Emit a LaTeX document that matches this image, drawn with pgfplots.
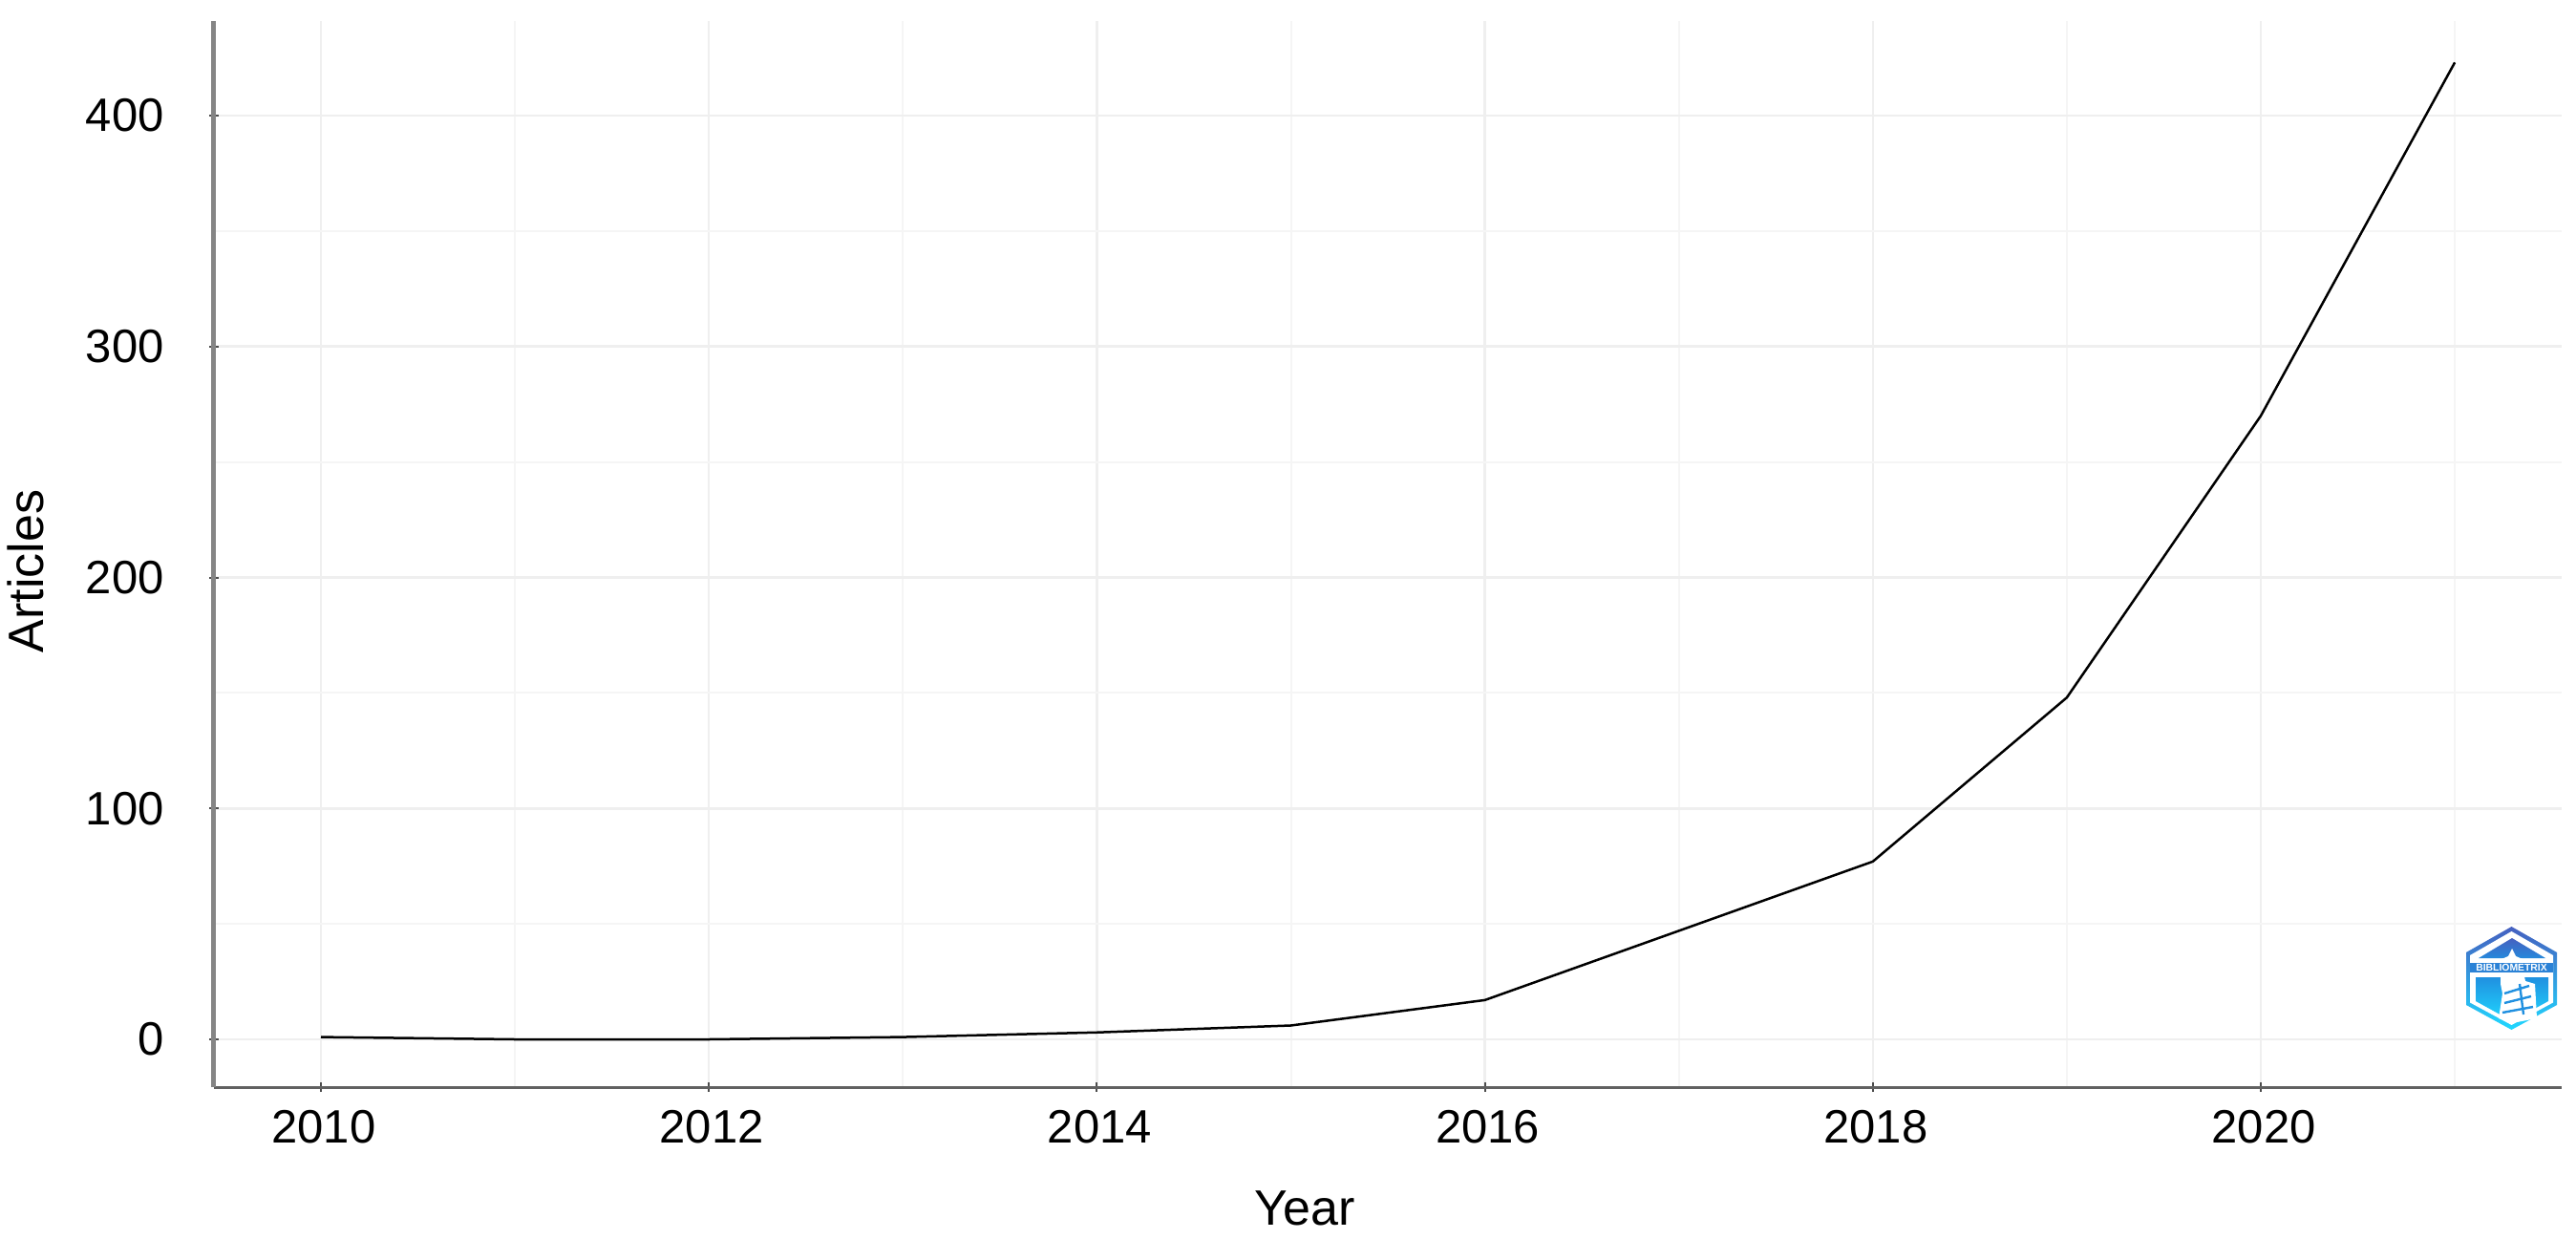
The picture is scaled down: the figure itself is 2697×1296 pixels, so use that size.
\documentclass[border=0pt]{standalone}
\usepackage{fontspec}
\setmainfont{Liberation Sans}
\usepackage{pgfplots}
\pgfplotsset{compat=1.18}
\usepackage{pgfplotstable}
\definecolor{majgrid}{HTML}{EFEFEF}
\definecolor{mingrid}{HTML}{F5F5F5}
\definecolor{logoTop}{HTML}{4560C0}
\definecolor{logoMid}{HTML}{2090E0}
\definecolor{logoBot}{HTML}{20D8FF}
\pgfplotstableread{
year articles
2010 1
2011 0
2012 0
2013 1
2014 3
2015 6
2016 17
2017 47
2018 77
2019 148
2020 270
2021 423
}\annual
\begin{document}
\begin{tikzpicture}
\begin{scope}[x=.5pt,y=-.5pt,shift={(-224,-1138)}]
\path[use as bounding box] (0,0) rectangle (2697,1296);
\end{scope}
\begin{axis}[
  at={(0,0)},anchor=south west,
  scale only axis,width=1229pt,height=558pt,
  xmin=2009.4485,xmax=2021.551,ymin=-20.68,ymax=440.95,
  axis lines=left,axis line style={-},
  x axis line style={color=black!62,line width=1.5pt},
  y axis line style={color=black!48,line width=2.5pt},
  xtick={2010,2012,2014,2016,2018,2020},
  ytick={0,100,200,300,400},
  minor xtick={2011,2013,2015,2017,2019,2021},
  minor ytick={50,150,250,350},
  grid=both,
  major grid style={majgrid,line width=1.25pt},
  minor grid style={mingrid,line width=1pt},
  major tick length=5pt,minor tick length=0pt,
  tick style={color=black!70,line width=1pt},
  /pgf/number format/assume math mode=true,
  /pgf/number format/1000 sep={},
  tick label style={font=\fontsize{24.5}{24.5}\selectfont,inner sep=0pt,text=black},
  xticklabel shift=9.5pt,
  xticklabel style={xshift=1.5pt},
  yticklabel shift=23.5pt,
  label style={font=\fontsize{26}{26}\selectfont},
  xlabel={Year},
  xlabel style={at={(axis description cs:0.4646,-0.1299)},anchor=base},
  ylabel={Articles},
  ylabel style={at={(axis description cs:-0.0728,0.4839)},anchor=base,rotate=0},
]
\addplot[black,line width=1.25pt,line join=round,no markers] table[x=year,y=articles] {\annual};
\end{axis}
\begin{scope}[x=.5pt,y=-.5pt,shift={(-224,-1138)}]
\shade[top color=logoTop,middle color=logoMid,bottom color=logoBot]
  (2629.5,970)--(2677,997)--(2677,1052)--(2629.5,1078)--(2582,1052)--(2582,997)--cycle;
\fill[white] (2629.5,975)--(2673,1000)--(2673,1049.5)--(2629.5,1073)--(2586,1049.5)--(2586,1000)--cycle;
\shade[top color=logoTop,bottom color=logoMid!85!logoTop]
  (2595,1003)--(2630,982)--(2665,1003)--cycle;
\fill[logoMid!70!logoTop] (2586,1008) rectangle (2673,1018);
\shade[top color=logoMid,bottom color=logoBot]
  (2592,1023)--(2668,1023)--(2668,1048)--(2630,1069)--(2592,1048)--cycle;
\fill[white] (2630,993)--(2634,1001)--(2641,1004)--(2636,1008)--(2624,1008)--(2619,1004)--(2626,1001)--cycle;
\fill[white] (2618,1018)--(2642,1018)--(2644,1027)--(2654,1030)--(2656,1066)--(2630,1071)--(2616,1066)--(2620,1040)--(2618,1030)--cycle;
\draw[logoMid,line width=1.2pt] (2622,1040)--(2648,1032) (2622,1050)--(2650,1043) (2620,1060)--(2652,1054) (2638,1030)--(2642,1062);
\node[text=white,font=\bfseries\fontsize{5.2}{5.2}\selectfont,inner sep=0pt] at (2629.5,1013) {BIBLIOMETRIX};
\end{scope}
\end{tikzpicture}
\end{document}
